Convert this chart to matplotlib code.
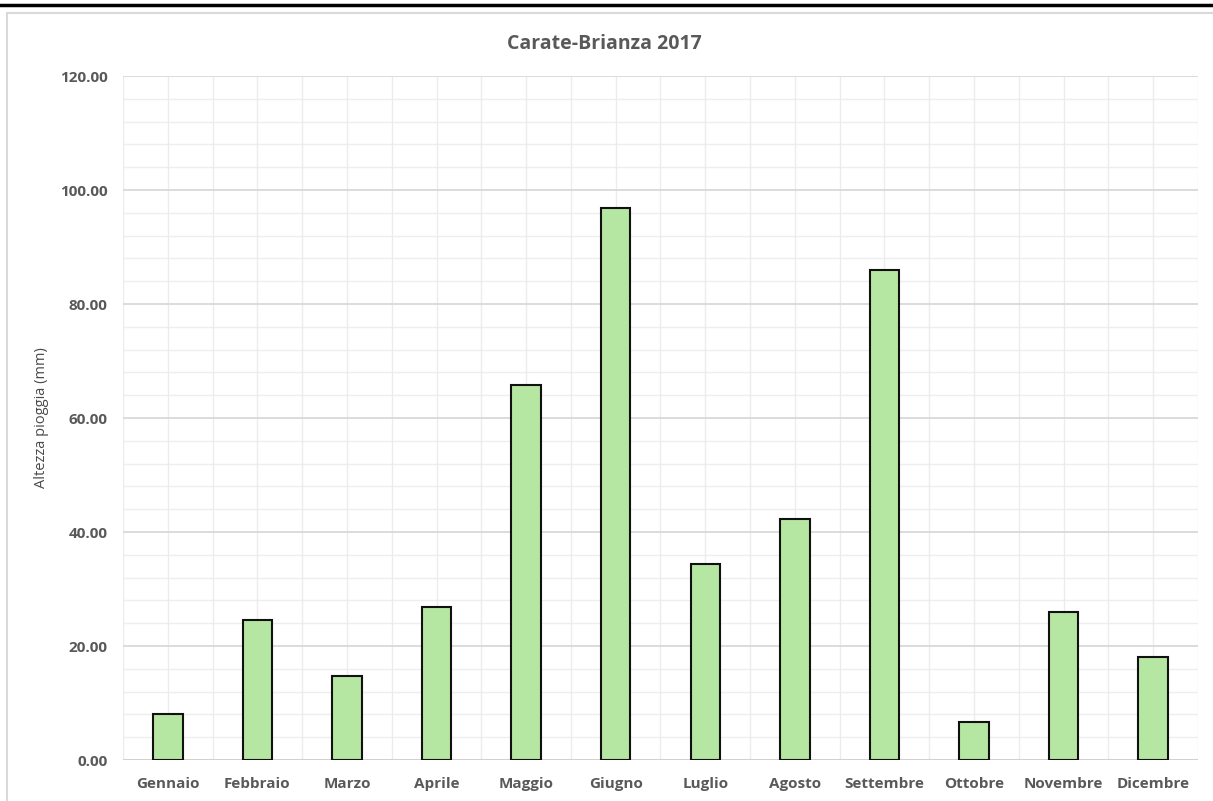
import matplotlib
matplotlib.use("Agg")
import matplotlib.pyplot as plt
from matplotlib.lines import Line2D
from matplotlib.patches import Rectangle
from matplotlib.ticker import MultipleLocator, FixedLocator
import numpy as np

months = ["Gennaio", "Febbraio", "Marzo", "Aprile", "Maggio", "Giugno",
          "Luglio", "Agosto", "Settembre", "Ottobre", "Novembre", "Dicembre"]
rain_mm = [8.1, 24.5, 14.7, 26.8, 65.8, 96.8, 34.4, 42.3, 86.0, 6.6, 26.0, 18.0]
title = "Carate-Brianza 2017"
ylabel = "Altezza pioggia (mm)"

plt.rcParams['font.family'] = ['Open Sans', 'DejaVu Sans']
txt = '#595959'

fig = plt.figure(figsize=(12.13, 8.01), dpi=100)
ax = fig.add_axes([123/1213, 1 - 760/801, (1198 - 123)/1213, (760 - 76)/801])

x = np.arange(len(months))
ax.bar(x, rain_mm, width=0.33, color='#b5e6a2', edgecolor='#111111', linewidth=1.5, zorder=3)

ax.set_xlim(-0.5, len(months) - 0.5)
ax.set_ylim(0, 120)
ax.yaxis.set_major_locator(MultipleLocator(20))
ax.yaxis.set_minor_locator(MultipleLocator(4))
ax.xaxis.set_major_locator(FixedLocator(x))
ax.set_xticklabels(months)
ax.set_yticklabels([f"{v:.2f}" for v in ax.get_yticks()])

# grid
for v in np.arange(0, 121, 4):
    if v % 20 == 0:
        ax.axhline(v, color='#d9d9d9', lw=1.3, zorder=1)
    else:
        ax.axhline(v, color='#eeeeee', lw=1.0, zorder=0.5)
for v in np.arange(-0.5, len(months), 0.5):
    ax.axvline(v, color='#ececec', lw=1.0, zorder=0.5)

for s in ax.spines.values():
    s.set_visible(False)
ax.axhline(0, color='#d0d0d0', lw=1.3, zorder=2)
ax.tick_params(axis='both', which='both', length=0, colors=txt)
ax.tick_params(axis='y', pad=11)
ax.tick_params(axis='x', pad=12)
for lab in ax.get_xticklabels() + ax.get_yticklabels():
    lab.set_fontsize(11)
    lab.set_fontweight('bold')
    lab.set_color(txt)

ax.set_ylabel(ylabel, fontsize=10.5, color='#4a4a4a')
ax.yaxis.set_label_coords(-74/1075, 0.5)

fig.text(604/1213, 1 - 44/801, title, ha='center', va='center', fontsize=14,
         fontweight='bold', color=txt)

# chart border and top line
fig.add_artist(Rectangle((7/1213, -0.01), 1.0, 1 - 13/801 + 0.01, transform=fig.transFigure,
                         fill=False, edgecolor='#d9d9d9', lw=1.5))
fig.add_artist(Line2D([0, 1], [1 - 5/801, 1 - 5/801], transform=fig.transFigure,
                      color='black', lw=2.5))

fig.savefig("out.png", dpi=100)
